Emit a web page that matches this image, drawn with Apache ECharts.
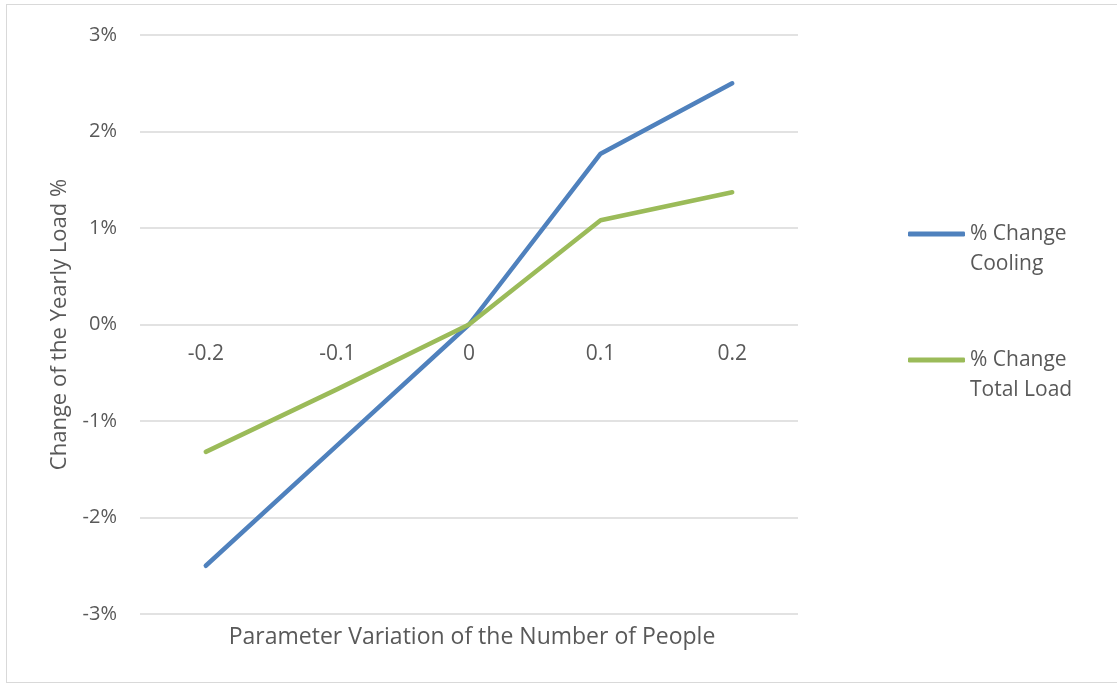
<!DOCTYPE html>
<html>
<head>
<meta charset="utf-8">
<script src="https://cdn.jsdelivr.net/npm/echarts@6/dist/echarts.min.js"></script>
<style>
html,body{margin:0;padding:0;background:#fff;}
#frame{position:absolute;left:6px;top:4px;width:1200px;height:679px;border:1px solid #d9d9d9;box-sizing:border-box;}
#chart{position:absolute;left:0;top:0;width:1117px;height:684px;}
</style>
</head>
<body>
<div id="frame"></div>
<div id="chart"></div>
<script>
const categories = ['-0.2', '-0.1', '0', '0.1', '0.2'];
const coolingChange = [-2.5, -1.25, 0, 1.77, 2.5];
const totalLoadChange = [-1.32, -0.67, 0, 1.08, 1.37];
const seriesNames = ['% Change\nCooling', '% Change\nTotal Load'];
const yTicks = { min: -3, max: 3, interval: 1 };

const FONT = 'Open Sans';
const TXT = '#595959';
const chart = echarts.init(document.getElementById('chart'), null, { renderer: 'canvas' });
chart.setOption({
  backgroundColor: 'transparent',
  animation: false,
  title: {
    text: 'Parameter Variation of the Number of People',
    left: 467, top: 621, textAlign: 'center',
    textStyle: { fontFamily: FONT, fontSize: 23, fontWeight: 'normal', color: TXT }
  },
  grid: { left: 140, right: 319, top: 35, bottom: 70, containLabel: false },
  legend: {
    orient: 'vertical',
    left: 903, top: 184,
    itemWidth: 57, itemHeight: 5, itemGap: 36,
    icon: 'roundRect',
    formatter: function (name) { return '\n' + name; },
    textStyle: { fontFamily: FONT, fontSize: 21, color: TXT, lineHeight: 30 },
    data: seriesNames
  },
  xAxis: {
    type: 'category',
    data: categories,
    boundaryGap: true,
    offset: -290,
    axisLine: { show: false, onZero: false },
    axisTick: { show: false },
    axisLabel: { fontFamily: FONT, fontSize: 21, color: TXT, margin: 20 },
    splitLine: { show: false }
  },
  yAxis: {
    type: 'value',
    min: yTicks.min, max: yTicks.max, interval: yTicks.interval,
    name: 'Change of the Yearly Load %',
    nameLocation: 'middle', nameGap: 69,
    nameTextStyle: { fontFamily: FONT, fontSize: 22, color: TXT },
    axisLine: { show: false },
    axisTick: { show: false },
    axisLabel: { fontFamily: FONT, fontSize: 20, color: TXT, margin: 23, formatter: '{value}%' },
    splitLine: { lineStyle: { color: '#d9d9d9', width: 1.5 } }
  },
  series: [
    { name: seriesNames[0], type: 'line', data: coolingChange, symbol: 'none',
      itemStyle: { color: '#4F81BD' },
      lineStyle: { color: '#4F81BD', width: 4.5, cap: 'round', join: 'round' } },
    { name: seriesNames[1], type: 'line', data: totalLoadChange, symbol: 'none',
      itemStyle: { color: '#9BBB59' },
      lineStyle: { color: '#9BBB59', width: 4.5, cap: 'round', join: 'round' } }
  ]
});
</script>
</body>
</html>
